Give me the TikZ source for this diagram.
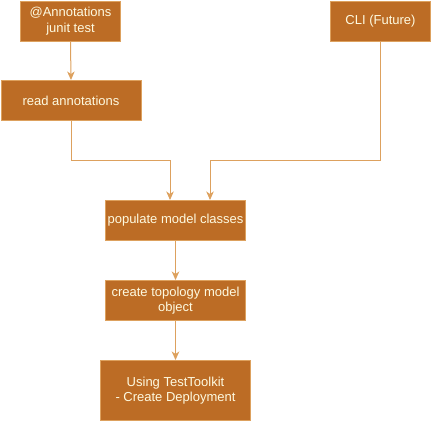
\documentclass[tikz,border=0pt]{standalone}
\usepackage{fontspec}
\setmainfont{Liberation Sans}
\usetikzlibrary{arrows.meta}
\definecolor{boxfill}{HTML}{BC6C25}
\definecolor{boxline}{HTML}{DDA15E}
\definecolor{boxtext}{HTML}{FEFAE0}
\begin{document}
\begin{tikzpicture}[x=1pt,y=-1pt,
  stepbox/.style={draw=boxline,fill=boxfill,text=boxtext,line width=1pt,
    font=\fontsize{13}{15.6}\selectfont,align=center,inner sep=0pt,anchor=north west},
  conn/.style={draw=boxline,line width=1pt,-{Stealth[length=8.5pt,width=7.5pt,inset=2.5pt]}}]
\useasboundingbox (0,0) rectangle (431,421);
\node[stepbox,minimum width=100pt,minimum height=40pt] (ann) at (20,0.5) {@Annotations\\junit test};
\node[stepbox,minimum width=140pt,minimum height=40pt] (read) at (0.5,80) {read annotations};
\node[stepbox,minimum width=100pt,minimum height=40pt] (cli) at (330,0.5) {CLI (Future)};
\node[stepbox,minimum width=140pt,minimum height=40pt] (pop) at (105,200) {populate model classes};
\node[stepbox,minimum width=140pt,minimum height=40pt] (topo) at (105,280) {create topology model\\object};
\node[stepbox,minimum width=150pt,minimum height=60pt] (tk) at (100,360) {Using TestToolkit\\- Create Deployment};
\coordinate (p1) at (170,160);
\coordinate (p2) at (210,160);
\draw[conn] (ann.south) -- (read.north);
\draw[conn] (read.south) |- (p1) -- (p1 |- pop.north);
\draw[conn] (cli.south) |- (p2) -- (p2 |- pop.north);
\draw[conn] (pop.south) -- (topo.north);
\draw[conn] (topo.south) -- (tk.north);
\end{tikzpicture}
\end{document}
